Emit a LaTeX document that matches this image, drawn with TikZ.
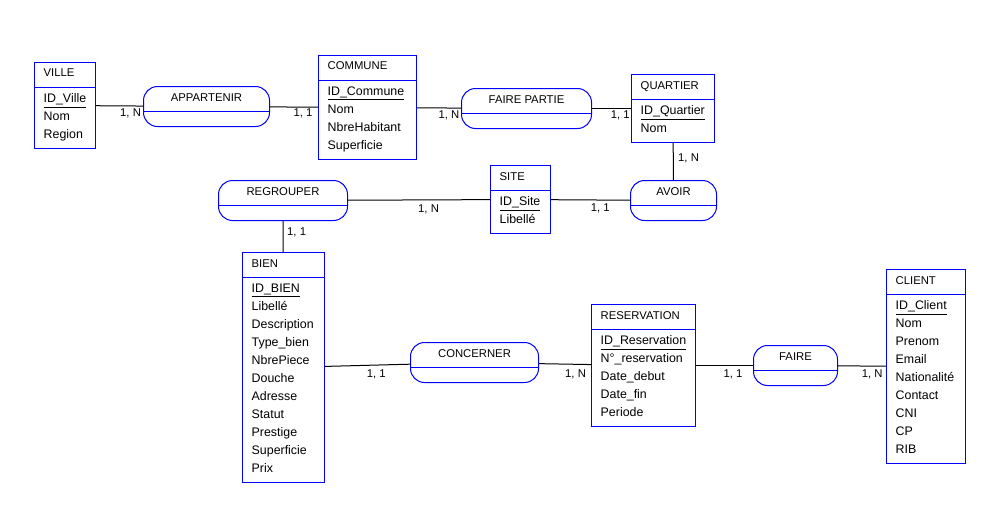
\documentclass[tikz,border=0pt]{standalone}
\usepackage{fontspec}
\setmainfont{Liberation Sans}
\usepackage{tikz}

\tikzset{
  entite/.style={draw=blue, line width=1pt, rectangle, inner sep=0pt, anchor=north west},
  relation/.style={draw=blue, line width=1pt, rectangle, rounded corners=14pt, inner sep=0pt, anchor=north west, minimum height=40pt},
  titre/.style={font=\fontsize{11.3}{14}\selectfont, inner sep=0pt, anchor=base west},
  attr/.style={font=\fontsize{12.4}{18}\selectfont, inner sep=0pt, anchor=north west, align=left},
  card/.style={font=\fontsize{11.3}{14}\selectfont, inner sep=0pt, anchor=base west},
  lien/.style={line width=1pt},
  trait/.style={draw=blue, line width=1pt}
}

\begin{document}
\begin{tikzpicture}[x=1pt,y=-1pt]
\useasboundingbox (0,0) rectangle (995,511);

% entites
\node[entite, minimum width=61pt, minimum height=86pt] (ville) at (34,62) {};
\node[entite, minimum width=98pt, minimum height=104pt] (commune) at (318,55) {};
\node[entite, minimum width=83pt, minimum height=68pt] (quartier) at (631,74) {};
\node[entite, minimum width=60pt, minimum height=68pt] (site) at (490,165) {};
\node[entite, minimum width=82pt, minimum height=230pt] (bien) at (242,252) {};
\node[entite, minimum width=104pt, minimum height=122pt] (reservation) at (591,304) {};
\node[entite, minimum width=79pt, minimum height=194pt] (client) at (886,269) {};

\foreach \e in {ville,commune,quartier,site,bien,reservation,client}
  \draw[trait] ([yshift=-25pt]\e.north west) -- ([yshift=-25pt]\e.north east);

\node[titre] (ville-t) at ([xshift=9.5pt,yshift=-15pt]ville.north west) {VILLE};
\node[attr] (ville-a) at ([xshift=9.5pt,yshift=-31.8pt]ville.north west) {\underline{ID\_Ville}\\Nom\\Region};

\node[titre] (commune-t) at ([xshift=9.5pt,yshift=-15pt]commune.north west) {COMMUNE};
\node[attr] (commune-a) at ([xshift=9.5pt,yshift=-31.8pt]commune.north west) {\underline{ID\_Commune}\\Nom\\NbreHabitant\\Superficie};

\node[titre] (quartier-t) at ([xshift=9.5pt,yshift=-15pt]quartier.north west) {QUARTIER};
\node[attr] (quartier-a) at ([xshift=9.5pt,yshift=-31.8pt]quartier.north west) {\underline{ID\_Quartier}\\Nom};

\node[titre] (site-t) at ([xshift=9.5pt,yshift=-15pt]site.north west) {SITE};
\node[attr] (site-a) at ([xshift=9.5pt,yshift=-31.8pt]site.north west) {\underline{ID\_Site}\\Libellé};

\node[titre] (bien-t) at ([xshift=9.5pt,yshift=-15pt]bien.north west) {BIEN};
\node[attr] (bien-a) at ([xshift=9.5pt,yshift=-31.8pt]bien.north west) {\underline{ID\_BIEN}\\Libellé\\Description\\Type\_bien\\NbrePiece\\Douche\\Adresse\\Statut\\Prestige\\Superficie\\Prix};

\node[titre] (reservation-t) at ([xshift=9.5pt,yshift=-15pt]reservation.north west) {RESERVATION};
\node[attr] (reservation-a) at ([xshift=9.5pt,yshift=-31.8pt]reservation.north west) {\underline{ID\_Reservation}\\N°\_reservation\\Date\_debut\\Date\_fin\\Periode};

\node[titre] (client-t) at ([xshift=9.5pt,yshift=-15pt]client.north west) {CLIENT};
\node[attr] (client-a) at ([xshift=9.5pt,yshift=-31.8pt]client.north west) {\underline{ID\_Client}\\Nom\\Prenom\\Email\\Nationalité\\Contact\\CNI\\CP\\RIB};

% associations
\node[relation, minimum width=126pt] (appartenir) at (143,86) {};
\node[relation, minimum width=130pt] (fairepartie) at (461,88) {};
\node[relation, minimum width=86pt] (avoir) at (630,180) {};
\node[relation, minimum width=129pt] (regrouper) at (218,180) {};
\node[relation, minimum width=128pt] (concerner) at (410,342) {};
\node[relation, minimum width=84pt] (faire) at (753,345) {};

\foreach \r/\t in {appartenir/APPARTENIR, fairepartie/FAIRE PARTIE, avoir/AVOIR,
                   regrouper/REGROUPER, concerner/CONCERNER, faire/FAIRE} {
  \draw[trait] ([yshift=-5pt]\r.west) -- ([yshift=-5pt]\r.east);
  \node[titre, anchor=base] (\r-t) at ([yshift=5.3pt]\r.center) {\t};
}

% liens
\draw[lien] (ville) -- (appartenir);
\draw[lien] (appartenir) -- (commune);
\draw[lien] (commune) -- (fairepartie);
\draw[lien] (fairepartie) -- (quartier);
\draw[lien] (quartier) -- (avoir);
\draw[lien] (regrouper) -- (site);
\draw[lien] (site) -- (avoir);
\draw[lien] (regrouper) -- (bien);
\draw[lien] (bien) -- (concerner);
\draw[lien] (concerner) -- (reservation);
\draw[lien] (reservation) -- (faire);
\draw[lien] (faire) -- (client);

% cardinalites
\node[card] (c-ville) at (120,116.7) {1, N};
\node[card] (c-commune1) at (293.3,116.7) {1, 1};
\node[card] (c-commune2) at (438.3,118.5) {1, N};
\node[card] (c-quartier1) at (610.7,118.5) {1, 1};
\node[card] (c-quartier2) at (678,161.7) {1, N};
\node[card] (c-site1) at (418,212) {1, N};
\node[card] (c-site2) at (590.7,211.7) {1, 1};
\node[card] (c-bien1) at (287,235.7) {1, 1};
\node[card] (c-bien2) at (366.7,377) {1, 1};
\node[card] (c-reservation1) at (565,377.3) {1, N};
\node[card] (c-reservation2) at (723.3,377) {1, 1};
\node[card] (c-client) at (861.7,377) {1, N};
\end{tikzpicture}
\end{document}
